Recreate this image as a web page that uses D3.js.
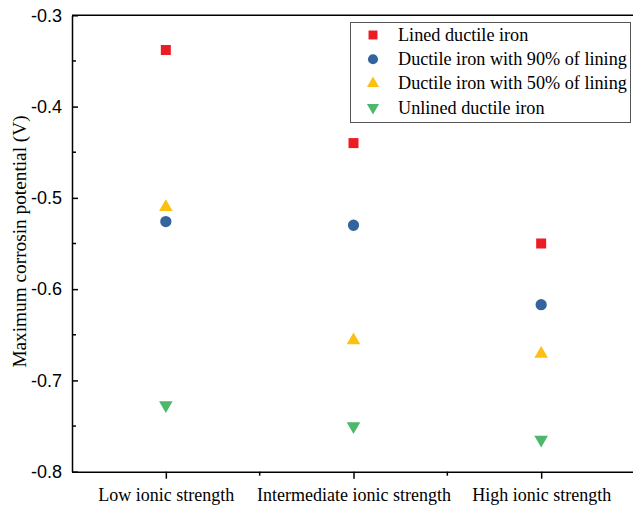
<!DOCTYPE html>
<html>
<head>
<meta charset="utf-8">
<script src="https://cdn.jsdelivr.net/npm/d3@7"></script>
<style>
  body { margin: 0; background: #fff; }
  svg { display: block; }
</style>
</head>
<body>
<svg id="chart" width="633" height="512"></svg>
<script>
// Categories and measured maximum corrosion potentials (V)
const categories = ["Low ionic strength", "Intermediate ionic strength", "High ionic strength"];
const seriesNames = ["Lined ductile iron", "Ductile iron with 90% of lining", "Ductile iron with 50% of lining", "Unlined ductile iron"];
const linedValues = [-0.338, -0.440, -0.550];
const lining90Values = [-0.526, -0.530, -0.617];
const lining50Values = [-0.510, -0.656, -0.671];
const unlinedValues = [-0.727, -0.750, -0.765];
const yTicks = [-0.8, -0.7, -0.6, -0.5, -0.4, -0.3];
const yMinorTicks = [-0.75, -0.65, -0.55, -0.45, -0.35];

const series = [
  { name: seriesNames[0], values: linedValues, color: "#ed1c24", symbol: d3.symbolSquare, size: 100 },
  { name: seriesNames[1], values: lining90Values, color: "#33649e", symbol: d3.symbolCircle, size: 100 },
  { name: seriesNames[2], values: lining50Values, color: "#fdbf10", symbol: d3.symbolTriangle, size: 80 },
  { name: seriesNames[3], values: unlinedValues, color: "#4cb86c", symbol: d3.symbolTriangle, size: 80, flip: true }
];

const svg = d3.select("#chart");
const plotLeft = 72, plotRight = 635, plotTop = 15.3, plotBottom = 471.7;

const x = d3.scalePoint().domain(categories).range([plotLeft, plotRight]).padding(0.5);
const y = d3.scaleLinear().domain([-0.8, -0.3]).range([plotBottom, plotTop]);

const serif = "'Liberation Serif', 'Times New Roman', serif";
const sans = "'Liberation Sans', Arial, sans-serif";

// Top frame line
svg.append("line")
  .attr("x1", plotLeft).attr("x2", plotRight).attr("y1", plotTop).attr("y2", plotTop)
  .attr("stroke", "#000").attr("stroke-width", 1.5);

// Y axis (ticks inward)
const yAxis = svg.append("g").attr("transform", `translate(${plotLeft},0)`)
  .call(d3.axisLeft(y).tickValues(yTicks).tickSize(-6).tickPadding(10).tickSizeOuter(0));
yAxis.select(".domain").attr("stroke-width", 1.5);
yAxis.selectAll(".tick line").attr("stroke-width", 1.5);
yAxis.selectAll("text").attr("font-family", sans).attr("font-size", 18).attr("fill", "#000")
  .text(d => d3.format(".1f")(d).replace("\u2212", "-"));

svg.append("g").selectAll("line").data(yMinorTicks).join("line")
  .attr("x1", plotLeft).attr("x2", plotLeft + 4)
  .attr("y1", d => y(d)).attr("y2", d => y(d))
  .attr("stroke", "#000").attr("stroke-width", 1.5);

// X axis (ticks outward)
const xAxis = svg.append("g").attr("transform", `translate(0,${plotBottom})`)
  .call(d3.axisBottom(x).tickSize(7).tickPadding(10).tickSizeOuter(0));
xAxis.select(".domain").attr("stroke-width", 1.5);
xAxis.selectAll(".tick line").attr("stroke-width", 1.5);
xAxis.selectAll("text").attr("font-family", serif).attr("font-size", 18).attr("fill", "#000");

// Minor x ticks halfway between categories
const xMinor = d3.pairs(categories).map(([a, b]) => (x(a) + x(b)) / 2);
svg.append("g").selectAll("line").data(xMinor).join("line")
  .attr("x1", d => d).attr("x2", d => d)
  .attr("y1", plotBottom).attr("y2", plotBottom + 4)
  .attr("stroke", "#000").attr("stroke-width", 1.5);

// Y axis title
svg.append("text")
  .attr("transform", `translate(26,${(plotTop + plotBottom) / 2 - 2}) rotate(-90)`)
  .attr("text-anchor", "middle")
  .attr("font-family", serif).attr("font-size", 19.3)
  .text("Maximum corrosin potential (V)");

// Data points
series.forEach(s => {
  svg.append("g").selectAll("path").data(s.values).join("path")
    .attr("d", d3.symbol().type(s.symbol).size(s.size))
    .attr("transform", (v, i) => `translate(${x(categories[i])},${y(v)})${s.flip ? " rotate(180)" : ""}`)
    .attr("fill", s.color);
});

// Legend
const lg = svg.append("g");
lg.append("rect").attr("x", 350.5).attr("y", 22.5).attr("width", 280).attr("height", 100)
  .attr("fill", "#fff").attr("stroke", "#555").attr("stroke-width", 1);
series.forEach((s, i) => {
  const cy = 35 + i * 24.2;
  lg.append("path")
    .attr("d", d3.symbol().type(s.symbol).size(s.size * 0.8))
    .attr("transform", `translate(373,${cy})${s.flip ? " rotate(180)" : ""}`)
    .attr("fill", s.color);
  lg.append("text").attr("x", 398).attr("y", cy + 6)
    .attr("font-family", serif).attr("font-size", 18.2).attr("fill", "#000")
    .text(s.name);
});
</script>
</body>
</html>
